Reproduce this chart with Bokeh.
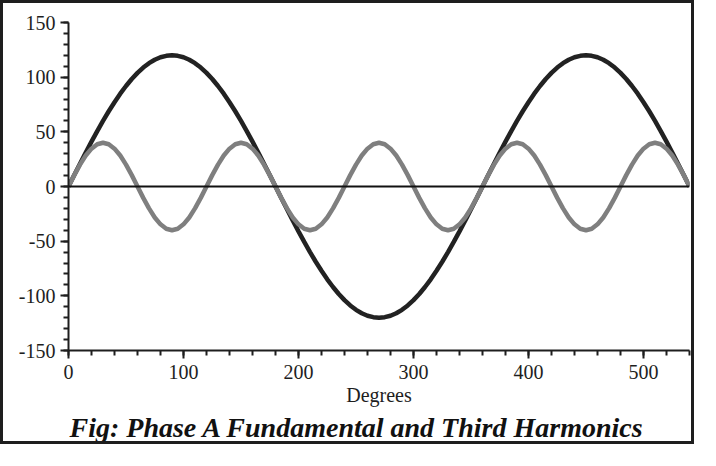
import math
from bokeh.plotting import figure
from bokeh.models import Range1d, SingleIntervalTicker, Span, Label, PrintfTickFormatter, Title
from bokeh.embed import file_html
from bokeh.resources import INLINE

degrees = list(range(0, 545, 5))

fundamental = [
    0, 10.5, 20.8, 31.1, 41.0, 50.7, 60.0, 68.8, 77.1, 84.9, 91.9, 98.3, 103.9, 108.8, 112.8, 115.9, 118.2, 119.5,
    120.0, 119.5, 118.2, 115.9, 112.8, 108.8, 103.9, 98.3, 91.9, 84.9, 77.1, 68.8, 60.0, 50.7, 41.0, 31.1, 20.8, 10.5,
    0, -10.5, -20.8, -31.1, -41.0, -50.7, -60.0, -68.8, -77.1, -84.9, -91.9, -98.3, -103.9, -108.8, -112.8, -115.9, -118.2, -119.5,
    -120.0, -119.5, -118.2, -115.9, -112.8, -108.8, -103.9, -98.3, -91.9, -84.9, -77.1, -68.8, -60.0, -50.7, -41.0, -31.1, -20.8, -10.5,
    0, 10.5, 20.8, 31.1, 41.0, 50.7, 60.0, 68.8, 77.1, 84.9, 91.9, 98.3, 103.9, 108.8, 112.8, 115.9, 118.2, 119.5,
    120.0, 119.5, 118.2, 115.9, 112.8, 108.8, 103.9, 98.3, 91.9, 84.9, 77.1, 68.8, 60.0, 50.7, 41.0, 31.1, 20.8, 10.5,
    0,
]

third_harmonic = [
    0, 10.4, 20.0, 28.3, 34.6, 38.6, 40.0, 38.6, 34.6, 28.3, 20.0, 10.4,
    0, -10.4, -20.0, -28.3, -34.6, -38.6, -40.0, -38.6, -34.6, -28.3, -20.0, -10.4,
    0, 10.4, 20.0, 28.3, 34.6, 38.6, 40.0, 38.6, 34.6, 28.3, 20.0, 10.4,
    0, -10.4, -20.0, -28.3, -34.6, -38.6, -40.0, -38.6, -34.6, -28.3, -20.0, -10.4,
    0, 10.4, 20.0, 28.3, 34.6, 38.6, 40.0, 38.6, 34.6, 28.3, 20.0, 10.4,
    0, -10.4, -20.0, -28.3, -34.6, -38.6, -40.0, -38.6, -34.6, -28.3, -20.0, -10.4,
    0, 10.4, 20.0, 28.3, 34.6, 38.6, 40.0, 38.6, 34.6, 28.3, 20.0, 10.4,
    0, -10.4, -20.0, -28.3, -34.6, -38.6, -40.0, -38.6, -34.6, -28.3, -20.0, -10.4,
    0, 10.4, 20.0, 28.3, 34.6, 38.6, 40.0, 38.6, 34.6, 28.3, 20.0, 10.4,
    0,
]

x_label = "Degrees"
y_label = "Volts"
caption = "Fig: Phase A Fundamental and Third Harmonics"

FONT = "Liberation Serif"
INK = "#1e1e1e"

# 694 x 444 canvas + 3px CSS border = 700 x 450 on the page
p = figure(width=694, height=444, output_backend="svg", toolbar_location=None,
           x_range=Range1d(0, 540), y_range=Range1d(-150, 150),
           min_border_left=65, min_border_right=8, min_border_top=19, min_border_bottom=97)
p.styles = {"border": "3px solid #1e1e1e"}
p.outline_line_color = None
p.xgrid.visible = False
p.ygrid.visible = False

p.xaxis.ticker = SingleIntervalTicker(interval=100, num_minor_ticks=5)
p.yaxis.ticker = SingleIntervalTicker(interval=50, num_minor_ticks=5)

for ax in (p.xaxis[0], p.yaxis[0]):
    ax.formatter = PrintfTickFormatter(format="%d")
    ax.axis_line_width = 2
    ax.axis_line_color = INK
    ax.major_tick_line_width = 2
    ax.major_tick_line_color = INK
    ax.minor_tick_line_width = 2
    ax.minor_tick_line_color = INK
    ax.major_tick_out = 8
    ax.major_tick_in = 0
    ax.minor_tick_out = 5
    ax.minor_tick_in = 0
    ax.major_label_text_font = FONT
    ax.major_label_text_font_size = "20px"
    ax.major_label_text_color = INK

p.xaxis.axis_label = x_label
p.xaxis.axis_label_text_font = FONT
p.xaxis.axis_label_text_font_size = "20px"
p.xaxis.axis_label_text_font_style = "normal"
p.xaxis.axis_label_text_color = INK
p.xaxis.axis_label_standoff = 2
p.xaxis.major_label_standoff = 6
p.yaxis.major_label_standoff = 5

p.line(degrees, fundamental, line_color="#222222", line_width=4.5)
p.line(degrees, third_harmonic, line_color="#7f7f7f", line_width=4.5)
p.add_layout(Span(location=0, dimension="width", line_color="#111111", line_width=2))

p.add_layout(Label(x=-49, y=0, x_units="screen", y_units="data", text=y_label,
                   angle=math.pi / 2, text_align="center", text_baseline="middle",
                   text_font=FONT, text_font_size="16px", text_color=INK))

p.add_layout(Title(text=caption, align="left", offset=1, standoff=2,
                   text_font=FONT, text_font_size="28px", text_font_style="bold italic",
                   text_color="#111111"), "below")

open("out.html", "w").write(file_html(p, INLINE))
